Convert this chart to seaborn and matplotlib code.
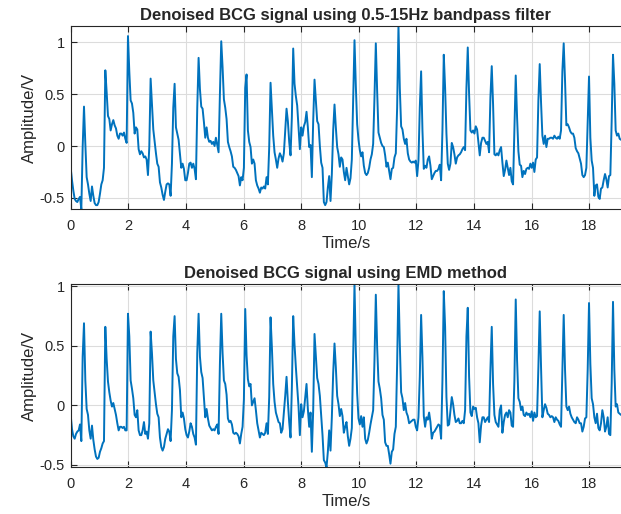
import numpy as np
import pandas as pd
import seaborn as sns
import matplotlib.pyplot as plt
from matplotlib.ticker import FuncFormatter

# sampling rate of the traces (samples per second)
fs = 21.625

# Amplitude (V) of the 0.5-15Hz bandpass-filtered BCG signal
bandpass_amp = [
    -0.21, -0.33, -0.43, -0.51, -0.53, -0.54, -0.51, -0.49, -0.61, -0.01,
    0.38, 0.02, -0.30, -0.37, -0.46, -0.53, -0.39, -0.48, -0.55, -0.57,
    -0.57, -0.54, -0.46, -0.37, -0.33, -0.21, 0.73, 0.52, 0.29, 0.26,
    0.15, 0.21, 0.25, 0.20, 0.17, 0.10, 0.07, 0.12, 0.12, 0.10,
    0.13, 0.07, 0.03, 1.06, 0.72, 0.44, 0.41, 0.32, 0.12, 0.18,
    0.16, -0.03, -0.08, -0.05, -0.07, -0.11, -0.10, -0.13, -0.28, -0.01,
    0.65, 0.40, 0.16, 0.04, -0.07, -0.17, -0.20, -0.35, -0.40, -0.47,
    -0.52, -0.44, -0.37, -0.36, -0.37, -0.48, -0.17, 0.37, 0.60, 0.18,
    0.12, 0.06, -0.07, -0.21, -0.17, -0.22, -0.33, -0.33, -0.26, -0.17,
    -0.16, -0.21, -0.17, -0.22, -0.32, 0.37, 0.85, 0.55, 0.38, 0.36,
    0.23, 0.08, 0.18, 0.08, 0.04, 0.05, 0.02, 0.04, 0.00, 0.08,
    0.01, -0.06, 0.50, 1.01, 0.76, 0.45, 0.37, 0.26, 0.04, -0.01,
    -0.05, -0.10, -0.20, -0.21, -0.23, -0.26, -0.29, -0.38, -0.30, -0.33,
    -0.21, 0.56, 0.69, 0.15, 0.04,
    -0.01, -0.17, -0.13, -0.17, -0.33, -0.38, -0.41, -0.45, -0.40, -0.41,
    -0.39, -0.41, -0.30, -0.37, -0.01, 0.61, 0.36, 0.10, -0.06, -0.13,
    -0.21, -0.12, -0.07, -0.10, -0.15, -0.07, 0.15, 0.36, 0.24, 0.04,
    -0.09, 0.28, 0.94, 0.60, 0.48, 0.39, 0.18, -0.03, 0.18, 0.10,
    0.19, 0.23, 0.33, 0.18, -0.01, 0.01, -0.30, 0.24, 0.64, 0.44,
    0.24, 0.21, 0.00, -0.16, -0.21, -0.54, -0.57, -0.54, -0.40, -0.29,
    -0.53, -0.27, 0.15, 0.40, 0.18, -0.01, -0.08, -0.20, -0.11, -0.13,
    -0.25, -0.33, -0.21, -0.29, -0.37, -0.31, -0.13, 0.47, 1.02, 0.58,
    0.21, 0.06, -0.04, -0.10, -0.06, -0.19, -0.26, -0.28, -0.26, -0.21,
    -0.13, -0.08, 0.02, 0.47, 0.99, 0.53, 0.13, 0.08, 0.03, 0.00,
    -0.01, -0.09, -0.20, -0.16, -0.24, -0.32, -0.22, -0.21, -0.11, -0.07,
    0.37, 1.16, 0.56, 0.19, 0.16, 0.07, 0.02, 0.07, -0.07, -0.13,
    -0.15, -0.16, -0.15, -0.16, -0.14, -0.29, -0.14, 0.37, 0.72, 0.15,
    -0.22, -0.19, -0.21, -0.13, -0.10,
    -0.19, -0.32, -0.29, -0.26, -0.24, -0.24, -0.22, -0.18, -0.33, 0.15,
    0.88, 0.56, 0.12, -0.17, -0.23, -0.17, 0.03, -0.01, -0.08, -0.17,
    -0.11, -0.09, -0.08, -0.06, -0.03, -0.01, -0.04, 0.56, 0.95, 0.50,
    0.15, 0.13, 0.15, 0.12, 0.19, 0.16, 0.03, -0.09, 0.03, 0.08,
    0.08, 0.05, 0.02, 0.04, -0.06, 0.47, 0.77, 0.40, -0.08, -0.09,
    -0.07, -0.09, -0.04, -0.01, -0.16, -0.29, -0.23, -0.14, -0.21, -0.28,
    -0.21, -0.34, -0.37, 0.15, 0.68, 0.28, -0.05, -0.18, -0.19, -0.30,
    -0.24, -0.27, -0.22, -0.21, -0.22, -0.17, -0.21, -0.16, -0.25, -0.13,
    -0.11, 0.44, 0.79, 0.42, 0.10, 0.02, 0.10, -0.01, 0.07, 0.07,
    0.08, 0.08, 0.07, 0.10, 0.08, 0.07, 0.09, 0.07, 0.15, 0.72,
    0.99, 0.63, 0.20, 0.21, 0.18, 0.14, 0.12, 0.12, 0.08, -0.02,
    -0.05, -0.07, -0.12, -0.17, -0.28, -0.30, -0.28, -0.21, 0.24, 0.67,
    0.08, -0.14, -0.21, -0.48, -0.38, -0.37, -0.49, -0.51, -0.41, -0.40,
    -0.33, -0.27, -0.32, -0.40, -0.29, -0.28, 0.24, 0.88, 0.60, 0.15,
    0.10, 0.12, 0.07, 0.06,
]

# Amplitude (V) of the EMD-denoised BCG signal
emd_amp = [
    -0.08, -0.20, -0.26, -0.28, -0.24, -0.22, -0.21, -0.16, -0.30, 0.41,
    0.69, 0.21, -0.03, -0.08, -0.21, -0.28, -0.17, -0.29, -0.37, -0.43,
    -0.45, -0.44, -0.39, -0.36, -0.32, -0.30, 0.66, 0.39, 0.20, 0.11,
    0.04, -0.01, 0.02, -0.03, -0.08, -0.15, -0.21, -0.18, -0.18, -0.19,
    -0.18, -0.21, -0.21, 0.77, 0.58, 0.21, 0.14, 0.06, -0.08, -0.10,
    -0.04, -0.21, -0.25, -0.25, -0.21, -0.14, -0.24, -0.22, -0.28, -0.15,
    0.62, 0.44, 0.21, 0.11, 0.01, -0.07, -0.10, -0.27, -0.35, -0.38,
    -0.35, -0.28, -0.24, -0.20, -0.22, -0.30, -0.04, 0.58, 0.75, 0.39,
    0.27, 0.24, 0.13, -0.10, -0.06, -0.11, -0.20, -0.25, -0.27, -0.22,
    -0.15, -0.18, -0.24, -0.27, -0.33, 0.44, 0.77, 0.41, 0.28, 0.23,
    0.06, -0.10, -0.03, -0.11, -0.17, -0.19, -0.21, -0.20, -0.21, -0.18,
    -0.16, -0.24, 0.35, 0.77, 0.44, 0.21, 0.18, 0.09, -0.11, -0.14,
    -0.13, -0.16, -0.23, -0.24, -0.23, -0.24, -0.26, -0.32, -0.24, -0.18,
    0.05, 0.81, 0.42, 0.22, 0.16,
    0.18, 0.00, 0.03, 0.06, -0.04, -0.15, -0.21, -0.27, -0.23, -0.24,
    -0.25, -0.23, -0.15, -0.24, 0.07, 0.74, 0.49, 0.18, 0.03, -0.06,
    -0.10, -0.14, -0.15, -0.23, -0.20, -0.06, 0.08, 0.24, 0.03, -0.14,
    -0.27, 0.15, 0.75, 0.51, 0.32, 0.15, -0.01, -0.25, 0.01, -0.10,
    -0.05, 0.07, 0.18, -0.03, -0.18, -0.06, -0.39, -0.04, 0.60, 0.42,
    0.23, 0.18, 0.08, -0.09, -0.25, -0.46, -0.48, -0.52, -0.39, -0.21,
    -0.38, -0.10, 0.27, 0.52, 0.32, 0.08, 0.01, -0.09, -0.03, -0.09,
    -0.23, -0.18, -0.14, -0.26, -0.34, -0.28, -0.19, 0.44, 1.02, 0.46,
    0.10, -0.11, -0.16, -0.09, -0.18, -0.10, -0.28, -0.32, -0.29, -0.23,
    -0.16, -0.10, -0.04, 0.38, 0.93, 0.49, 0.20, 0.14, 0.06, -0.08,
    -0.12, -0.31, -0.34, -0.34, -0.41, -0.49, -0.39, -0.37, -0.24, -0.18,
    0.35, 1.02, 0.52, 0.11, 0.06, -0.04, 0.02, -0.06, -0.09, -0.15,
    -0.14, -0.13, -0.12, -0.12, -0.18, -0.21, -0.10, 0.24, 0.76, 0.40,
    -0.09, -0.18, -0.10, -0.12, -0.06,
    -0.14, -0.28, -0.23, -0.22, -0.20, -0.18, -0.16, -0.17, -0.28, 0.21,
    0.96, 0.66, 0.07, -0.17, -0.16, -0.04, 0.07, 0.01, -0.08, -0.14,
    -0.13, -0.11, -0.15, -0.15, -0.13, -0.15, -0.04, 0.58, 0.82, 0.24,
    -0.06, -0.09, -0.01, -0.03, -0.02, -0.10, -0.15, -0.31, -0.17, -0.10,
    -0.10, -0.14, -0.12, -0.10, -0.14, 0.30, 0.66, 0.18, -0.08, -0.14,
    -0.16, -0.18, -0.04, 0.00, -0.23, -0.14, -0.08, -0.06, -0.10, -0.04,
    -0.06, -0.17, -0.18, 0.21, 0.89, 0.38, 0.06, 0.03, -0.04, -0.01,
    -0.08, -0.09, -0.06, -0.08, -0.07, -0.10, -0.05, -0.13, -0.06, -0.10,
    -0.09, 0.32, 0.79, 0.32, -0.10, -0.04, 0.01, -0.02, -0.07, -0.08,
    -0.10, -0.09, -0.10, -0.14, -0.10, -0.12, -0.13, -0.16, -0.18, 0.30,
    0.76, 0.30, -0.01, -0.04, -0.01, -0.07, -0.10, -0.12, -0.14, -0.15,
    -0.10, -0.12, -0.15, -0.15, -0.22, -0.18, -0.11, -0.10, 0.30, 0.86,
    0.35, 0.06, 0.01, -0.10, -0.15, -0.07, -0.19, -0.21, -0.15, -0.04,
    -0.10, -0.22, -0.18, -0.10, -0.24, -0.25, 0.18, 0.87, 0.30, -0.01,
    0.01, -0.06, -0.07, -0.08,
]

titles = ['Denoised BCG signal using 0.5-15Hz bandpass filter',
          'Denoised BCG signal using EMD method']
x_ticks = [0, 2, 4, 6, 8, 10, 12, 14, 16, 18]
y_ticks = [-0.5, 0, 0.5, 1]

sns.set_theme(style='ticks')
plt.rcParams['font.family'] = ['Liberation Sans', 'DejaVu Sans']
plt.rcParams['axes.unicode_minus'] = False

fig = plt.figure(figsize=(6.21, 5.14), dpi=100)
positions = [[0.1138, 0.5928, 0.8862, 0.3572],
             [0.1138, 0.0909, 0.8862, 0.3566]]

for pos, title, amp in zip(positions, titles, [bandpass_amp, emd_amp]):
    ax = fig.add_axes(pos)
    df = pd.DataFrame({'Time/s': np.arange(len(amp)) / fs, 'Amplitude/V': amp})
    sns.lineplot(data=df, x='Time/s', y='Amplitude/V', ax=ax,
                 color='#0072BD', linewidth=1.4)

    # tight limits like MATLAB's "axis tight"
    ax.set_xlim(0, df['Time/s'].max())
    ax.set_ylim(df['Amplitude/V'].min(), df['Amplitude/V'].max())
    ax.set_xticks(x_ticks)
    ax.set_yticks(y_ticks)
    ax.yaxis.set_major_formatter(FuncFormatter(lambda v, p: f'{v:g}'))

    ax.grid(True, color='#dcdcdc', linewidth=0.8)
    ax.set_axisbelow(True)
    ax.tick_params(direction='in', length=4.3, width=0.8, colors='#262626',
                   labelsize=10.5, top=True, right=False)
    ax.tick_params(axis='x', pad=7)
    ax.tick_params(axis='y', pad=4)
    ax.spines['right'].set_visible(False)
    for side in ['left', 'bottom', 'top']:
        ax.spines[side].set_color('#262626')
        ax.spines[side].set_linewidth(0.8)

    ax.set_title(title, fontsize=12, fontweight='bold', pad=4)
    ax.set_xlabel('Time/s', fontsize=12, labelpad=2, color='#262626')
    ax.set_ylabel('Amplitude/V', fontsize=12, labelpad=2, color='#262626')

fig.savefig('out.png', dpi=100)
